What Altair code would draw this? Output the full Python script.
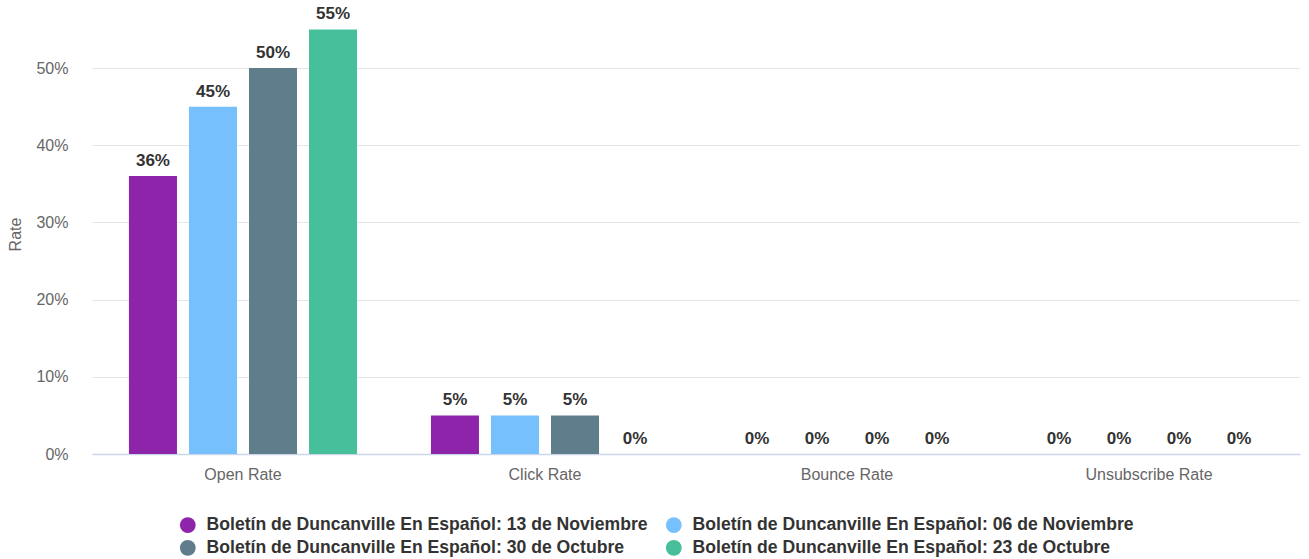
import altair as alt
import pandas as pd

metrics = ["Open Rate", "Click Rate", "Bounce Rate", "Unsubscribe Rate"]
series = [
    "Boletín de Duncanville En Español: 13 de Noviembre",
    "Boletín de Duncanville En Español: 06 de Noviembre",
    "Boletín de Duncanville En Español: 30 de Octubre",
    "Boletín de Duncanville En Español: 23 de Octubre",
]
colors = ["#8E24AA", "#77C0FE", "#607D8B", "#46BF9A"]
values = {
    series[0]: [0.36, 0.05, 0.0, 0.0],
    series[1]: [0.45, 0.05, 0.0, 0.0],
    series[2]: [0.50, 0.05, 0.0, 0.0],
    series[3]: [0.55, 0.0, 0.0, 0.0],
}

rows = []
for s in series:
    for m, v in zip(metrics, values[s]):
        rows.append({"metric": m, "series": s, "value": v})
df = pd.DataFrame(rows)

FONT = "Liberation Sans"

x = alt.X(
    "metric:N",
    sort=metrics,
    title=None,
    scale=alt.Scale(paddingInner=0.205, paddingOuter=0.1025),
    axis=alt.Axis(
        labelAngle=0, ticks=False, labelPadding=12, labelFontSize=16,
        labelColor="#666666", labelFont=FONT, domainColor="#ccd6eb", domainWidth=1.5,
        grid=False,
    ),
)
xoff = alt.XOffset("series:N", sort=series, scale=alt.Scale(paddingInner=0.2, paddingOuter=0.1))
y = alt.Y(
    "value:Q",
    title="Rate",
    scale=alt.Scale(domain=[0, 0.57], nice=False),
    axis=alt.Axis(
        values=[0, 0.1, 0.2, 0.3, 0.4, 0.5], format=".0%", ticks=False, domain=False,
        labelPadding=24, labelFontSize=16, labelColor="#666666", labelFont=FONT,
        titleFontSize=16, titleColor="#666666", titleFont=FONT, titleFontWeight="normal",
        titlePadding=12, gridColor="#e6e6e6",
    ),
)
color = alt.Color(
    "series:N",
    sort=series,
    scale=alt.Scale(domain=series, range=colors),
    legend=alt.Legend(
        title=None, orient="none", legendX=87, legendY=502, columns=2, direction="horizontal",
        symbolType="circle", symbolSize=250, symbolStrokeWidth=0,
        labelFontSize=17.6, labelFontWeight="bold", labelColor="#333333", labelFont=FONT,
        columnPadding=17, rowPadding=4, labelOffset=10, labelLimit=600,
    ),
)

bars = alt.Chart(df).mark_bar().encode(
    x=x, xOffset=xoff, y=y, color=color
)
labels = alt.Chart(df).mark_text(
    baseline="bottom", dy=-6, fontSize=17, fontWeight="bold", color="#333333", font=FONT
).encode(
    x=alt.X("metric:N", sort=metrics),
    xOffset=alt.XOffset("series:N", sort=series),
    y=alt.Y("value:Q"),
    text=alt.Text("value:Q", format=".0%"),
)

chart = (
    alt.layer(bars, labels)
    .properties(
        width=1208, height=440,
        background="white",
        autosize=alt.AutoSizeParams(type="none"),
        padding={"left": 92, "top": 14, "right": 9, "bottom": 105},
    )
    .configure_view(strokeWidth=0, stroke="transparent")
)
chart.save("out.html", embed_options={"renderer": "svg", "actions": False})
